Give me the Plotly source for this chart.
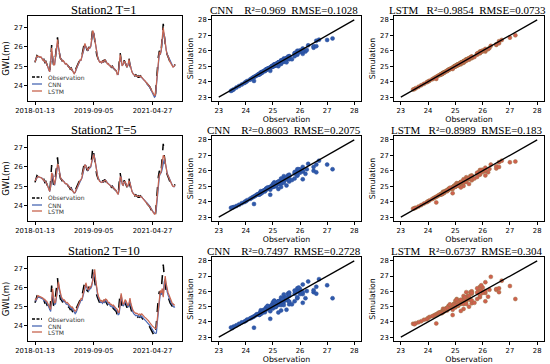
import plotly.graph_objects as go
import pandas as pd

# ---------------- data ----------------
start_date = "2018-01-13"
step = "10D"

observation = [
25.20,25.40,25.55,25.50,25.52,25.45,25.50,25.40,25.30,25.35,
25.20,25.25,25.10,24.95,24.75,24.70,25.30,26.10,25.40,25.05,
25.10,25.60,26.20,26.50,25.90,25.55,25.40,25.35,25.25,25.30,
25.15,25.10,25.15,25.05,25.00,24.95,24.85,24.90,24.75,24.65,
24.60,24.70,24.90,25.00,25.10,25.20,25.35,25.30,25.60,25.90,
26.10,26.25,26.00,25.85,25.80,26.00,25.95,26.10,26.50,27.00,
26.70,26.30,25.95,25.60,25.45,25.30,25.20,25.25,25.15,25.30,
25.20,25.35,25.30,25.20,25.10,25.15,25.00,25.05,24.95,25.00,
24.90,24.85,24.80,24.75,24.55,24.60,25.20,25.70,25.30,25.00,
25.10,25.30,25.20,25.05,24.95,25.10,25.40,25.05,24.80,24.70,
24.60,24.55,24.50,24.55,24.50,24.45,24.50,24.45,24.50,24.40,
24.35,24.30,24.25,24.20,24.15,24.05,24.00,23.95,23.85,23.75,
23.65,23.55,23.45,23.50,24.30,24.90,25.50,25.80,25.60,25.90,
26.60,27.20,26.60,26.10,25.80,25.60,25.50,25.35,25.20,25.10,
25.05,24.95,25.00,25.10]

cnn_t1 = [
25.25,25.38,25.50,25.50,25.50,25.46,25.47,25.42,25.33,25.33,
25.24,25.23,25.13,24.99,24.80,24.72,25.15,25.80,25.50,25.10,
25.08,25.45,25.95,26.20,26.00,25.62,25.43,25.36,25.27,25.28,
25.18,25.12,25.13,25.07,25.02,24.97,24.88,24.89,24.79,24.68,
24.63,24.68,24.85,24.98,25.08,25.18,25.30,25.31,25.50,25.75,
25.95,26.05,26.02,25.88,25.80,25.92,25.93,26.02,26.30,26.70,
26.72,26.35,25.98,25.65,25.48,25.33,25.22,25.23,25.17,25.25,
25.22,25.30,25.30,25.22,25.13,25.13,25.03,25.03,24.97,24.98,
24.92,24.86,24.81,24.76,24.60,24.58,25.00,25.45,25.38,25.05,
25.08,25.22,25.21,25.08,24.97,25.05,25.28,25.12,24.85,24.72,
24.62,24.56,24.51,24.53,24.50,24.46,24.48,24.45,24.47,24.40,
24.35,24.30,24.25,24.19,24.13,24.04,23.98,23.92,23.82,23.72,
23.62,23.50,23.40,23.45,24.05,24.70,25.25,25.65,25.62,25.80,
26.30,26.80,26.65,26.15,25.85,25.63,25.52,25.37,25.23,25.12,
25.06,24.97,24.99,25.07]

lstm_t1 = [
25.22,25.39,25.53,25.51,25.51,25.46,25.49,25.41,25.31,25.34,
25.22,25.24,25.11,24.97,24.78,24.71,25.22,25.95,25.45,25.07,
25.09,25.52,26.10,26.38,25.95,25.58,25.41,25.35,25.26,25.29,
25.16,25.11,25.14,25.06,25.01,24.96,24.86,24.89,24.77,24.66,
24.61,24.69,24.88,24.99,25.09,25.19,25.33,25.31,25.55,25.84,
26.04,26.18,26.01,25.86,25.81,25.96,25.95,26.06,26.42,26.85,
26.70,26.32,25.97,25.62,25.46,25.31,25.21,25.24,25.16,25.28,
25.21,25.33,25.30,25.21,25.11,25.14,25.02,25.04,24.96,24.99,
24.91,24.86,24.81,24.76,24.57,24.60,25.12,25.60,25.33,25.02,
25.09,25.27,25.20,25.06,24.96,25.08,25.35,25.08,24.82,24.71,
24.61,24.56,24.51,24.54,24.50,24.46,24.49,24.45,24.49,24.41,
24.36,24.31,24.26,24.21,24.15,24.06,24.01,23.96,23.86,23.77,
23.67,23.58,23.49,23.52,24.18,24.82,25.42,25.75,25.61,25.86,
26.48,27.00,26.62,26.12,25.82,25.61,25.51,25.36,25.21,25.11,
25.06,24.96,25.00,25.09]

cnn_t5 = [
25.30,25.32,25.45,25.50,25.48,25.45,25.45,25.43,25.35,25.30,
25.27,25.20,25.15,25.02,24.85,24.72,24.95,25.45,25.65,25.25,
25.05,25.30,25.80,26.00,26.10,25.70,25.45,25.38,25.30,25.27,
25.22,25.13,25.12,25.10,25.03,24.98,24.92,24.87,24.83,24.72,
24.65,24.66,24.78,24.95,25.05,25.15,25.27,25.33,25.42,25.70,
25.95,26.10,26.08,25.92,25.82,25.88,25.97,26.00,26.25,26.40,
26.65,26.45,26.10,25.75,25.52,25.38,25.25,25.22,25.20,25.20,
25.25,25.27,25.32,25.25,25.15,25.12,25.08,25.02,25.00,24.97,
24.95,24.88,24.83,24.78,24.68,24.58,24.82,25.40,25.50,25.15,
25.02,25.18,25.25,25.12,25.00,25.00,25.22,25.20,24.92,24.75,
24.65,24.58,24.53,24.52,24.53,24.48,24.47,24.48,24.47,24.45,
24.38,24.33,24.28,24.23,24.18,24.10,24.03,23.98,23.90,23.80,
23.72,23.65,23.60,23.62,23.85,24.45,25.05,25.50,25.65,25.70,
25.90,26.10,26.40,26.25,25.92,25.68,25.55,25.42,25.28,25.15,
25.08,25.00,24.97,25.03]

lstm_t5 = [
25.28,25.35,25.48,25.51,25.49,25.46,25.47,25.42,25.34,25.32,
25.25,25.22,25.14,25.00,24.83,24.73,25.02,25.70,25.58,25.20,
25.08,25.38,25.90,26.15,26.05,25.66,25.45,25.37,25.29,25.28,
25.20,25.13,25.13,25.09,25.03,24.98,24.90,24.88,24.81,24.71,
24.65,24.68,24.82,24.97,25.07,25.17,25.30,25.33,25.47,25.75,
25.98,26.12,26.06,25.90,25.82,25.92,25.97,26.03,26.30,26.55,
26.65,26.40,26.05,25.70,25.50,25.36,25.24,25.23,25.19,25.23,
25.24,25.29,25.31,25.24,25.14,25.13,25.06,25.03,24.99,24.98,
24.94,24.87,24.82,24.77,24.64,24.58,24.92,25.50,25.45,25.10,
25.05,25.22,25.24,25.10,24.99,25.03,25.28,25.17,24.90,24.74,
24.64,24.57,24.52,24.53,24.52,24.47,24.48,24.47,24.48,24.43,
24.37,24.32,24.27,24.22,24.17,24.08,24.02,23.97,23.88,23.78,
23.69,23.61,23.55,23.58,23.95,24.55,25.15,25.60,25.65,25.78,
26.25,26.60,26.55,26.20,25.88,25.65,25.53,25.40,25.25,25.13,
25.07,24.99,24.98,25.05]

cnn_t10 = [
25.35,25.30,25.40,25.52,25.50,25.48,25.45,25.46,25.40,25.32,
25.32,25.22,25.22,25.10,24.95,24.78,24.75,25.25,25.80,25.40,
25.10,25.15,25.55,25.95,26.20,25.85,25.55,25.42,25.36,25.27,
25.28,25.17,25.12,25.14,25.07,25.02,24.97,24.88,24.90,24.78,
24.68,24.63,24.70,24.88,25.00,25.10,25.20,25.34,25.33,25.55,
25.82,26.02,26.15,25.98,25.85,25.82,25.97,25.96,26.08,26.40,
26.80,26.65,26.25,25.92,25.60,25.45,25.32,25.22,25.24,25.17,
25.28,25.22,25.33,25.30,25.21,25.12,25.14,25.02,25.04,24.97,
24.99,24.91,24.86,24.81,24.76,24.58,24.62,25.15,25.60,25.28,
25.02,25.10,25.28,25.20,25.06,24.97,25.10,25.35,25.05,24.82,
24.71,24.62,24.56,24.52,24.55,24.50,24.47,24.50,24.46,24.50,
24.42,24.36,24.31,24.27,24.22,24.16,24.08,24.02,23.97,23.88,
23.78,23.70,23.63,23.60,23.62,24.20,24.80,25.35,25.70,25.62,
25.85,25.55,26.30,26.45,26.05,25.78,25.60,25.50,25.35,25.20,
25.10,25.05,24.97,25.00]

lstm_t10 = [
25.40,25.35,25.45,25.58,25.55,25.52,25.50,25.50,25.45,25.38,
25.38,25.30,25.28,25.18,25.05,24.90,24.85,25.35,25.95,25.50,
25.20,25.22,25.65,26.10,26.30,25.95,25.62,25.50,25.42,25.35,
25.35,25.25,25.20,25.22,25.15,25.10,25.05,24.97,24.98,24.88,
24.80,24.75,24.80,24.95,25.08,25.18,25.28,25.42,25.40,25.62,
25.90,26.10,26.25,26.05,25.92,25.90,26.05,26.02,26.15,26.35,
26.70,26.95,26.40,26.00,25.70,25.52,25.40,25.30,25.32,25.25,
25.35,25.30,25.40,25.38,25.30,25.20,25.22,25.12,25.12,25.05,
25.08,25.00,24.95,24.90,24.86,24.70,24.72,25.25,25.70,25.38,
25.12,25.18,25.36,25.30,25.15,25.05,25.18,25.45,25.15,24.92,
24.82,24.74,24.68,24.64,24.66,24.62,24.58,24.62,24.58,24.62,
24.55,24.50,24.45,24.41,24.37,24.32,24.25,24.18,24.14,24.05,
23.98,23.92,23.88,23.85,23.90,24.45,25.00,25.50,25.85,25.72,
25.95,25.50,26.20,26.60,26.20,25.90,25.72,25.60,25.45,25.30,
25.20,25.15,25.08,25.10]

row_titles = ["Station2 T=1", "Station2 T=5", "Station2 T=10"]
cnn_titles = ["CNN\u00a0\u00a0\u00a0 R²=0.969\u00a0 RMSE=0.1028",
              "CNN\u00a0\u00a0\u00a0 R²=0.8603\u00a0 RMSE=0.2075",
              "CNN\u00a0\u00a0\u00a0 R²=0.7497\u00a0 RMSE=0.2728"]
lstm_titles = ["LSTM\u00a0\u00a0 R²=0.9854\u00a0 RMSE=0.0733",
               "LSTM\u00a0\u00a0 R²=0.8989\u00a0 RMSE=0.183",
               "LSTM\u00a0\u00a0 R²=0.6737\u00a0 RMSE=0.304"]
series_names = ["Observation", "CNN", "LSTM"]
cnn_sims = [cnn_t1, cnn_t5, cnn_t10]
lstm_sims = [lstm_t1, lstm_t5, lstm_t10]

tick_dates = ["2018-01-13", "2019-09-05", "2021-04-27"]
gwl_ticks = [24, 25, 26, 27]
scatter_ticks = [23, 24, 25, 26, 27, 28]
one_to_one = [23, 28]

# ---------------- styling ----------------
W, H = 550, 364
C_OBS = "black"
C_CNN = "#4a68b4"
C_LSTM = "#c8654f"
C_CNN_PT = "#2f5aac"
C_LSTM_PT = "#d0604e"
TICKFONT = dict(family="DejaVu Sans", size=6.8, color="black")
STATIONFONT = dict(family="Liberation Serif", size=12.5, color="black")
METRICFONT = dict(family="Liberation Serif", size=11, color="black")
GWLFONT = dict(family="DejaVu Sans", size=8.5, color="black")
LABELFONT = dict(family="DejaVu Sans", size=7.8, color="black")

col_px = [(28, 182), (212, 361), (394, 544)]
row_px = [(16, 101), (136, 221), (257, 341)]
title_px = [10, 130, 251]
title_center_px = [104, 284, 467]
legend_rows_px = [(77, 84, 91), (198, 205, 211), (319, 326, 332)]

dates = pd.date_range(start_date, periods=len(observation), freq=step)
pad = pd.Timedelta(days=71.5)
x_range = [dates[0] - pad, dates[-1] + pad]

fig = go.Figure()
layout = {}
annotations = []
shapes = []


def dom_x(c):
    return [col_px[c][0] / W, col_px[c][1] / W]


def dom_y(r):
    return [1 - row_px[r][1] / H, 1 - row_px[r][0] / H]


def axis_common():
    return dict(showline=True, mirror=True, linecolor="black", linewidth=0.8,
                ticks="outside", ticklen=3, tickwidth=0.8, tickcolor="black",
                showgrid=False, zeroline=False, tickfont=TICKFONT, automargin=False)


k = 0
for r in range(3):
    for c in range(3):
        k += 1
        xa = "xaxis" if k == 1 else f"xaxis{k}"
        ya = "yaxis" if k == 1 else f"yaxis{k}"
        xref = "x" if k == 1 else f"x{k}"
        yref = "y" if k == 1 else f"y{k}"
        ax_x = axis_common()
        ax_y = axis_common()
        ax_x.update(domain=dom_x(c), anchor=yref)
        ax_y.update(domain=dom_y(r), anchor=xref)
        if c == 0:
            styles = [dict(color=C_OBS, width=1.5, dash="dash"),
                      dict(color=C_CNN, width=1.2),
                      dict(color=C_LSTM, width=1.2)]
            for name, ys, st in zip(series_names, [observation, cnn_sims[r], lstm_sims[r]], styles):
                fig.add_trace(go.Scatter(x=dates, y=ys, mode="lines", name=name, line=st,
                                         showlegend=False, xaxis=xref, yaxis=yref))
            # in-axes legend (drawn by hand so the entries can sit as tightly as in the source)
            for name, st, ypx in zip(series_names, styles, legend_rows_px[r]):
                shapes.append(dict(type="line", xref="paper", yref="paper",
                                   x0=32 / W, x1=42 / W, y0=1 - ypx / H, y1=1 - ypx / H,
                                   line=dict(color=st["color"], width=1.3,
                                             dash="3px,1.5px" if st.get("dash") else "solid")))
                annotations.append(dict(text=name, x=46 / W, y=1 - ypx / H, xref="paper", yref="paper",
                                        xanchor="left", yanchor="middle", showarrow=False,
                                        font=dict(family="DejaVu Sans", size=6, color="#333")))
            ax_x.update(type="date", range=x_range, tickvals=tick_dates, ticktext=tick_dates)
            ax_y.update(range=[23.2, 27.6], tickvals=gwl_ticks,
                        title=dict(text="GWL(m)", font=GWLFONT, standoff=3))
            title, tfont = row_titles[r], STATIONFONT
        else:
            sims = cnn_sims[r] if c == 1 else lstm_sims[r]
            col = C_CNN_PT if c == 1 else C_LSTM_PT
            edge = "#2a4f9a" if c == 1 else "#9a7444"
            fig.add_trace(go.Scatter(x=observation, y=sims, mode="markers",
                                     marker=dict(color=col, size=4, line=dict(color=edge, width=0.5)),
                                     showlegend=False, xaxis=xref, yaxis=yref))
            fig.add_trace(go.Scatter(x=one_to_one, y=one_to_one, mode="lines",
                                     line=dict(color="black", width=1.3),
                                     showlegend=False, xaxis=xref, yaxis=yref))
            ax_x.update(range=[22.75, 28.25], tickvals=scatter_ticks,
                        title=dict(text="Observation", font=LABELFONT, standoff=2))
            ax_y.update(range=[22.75, 28.25], tickvals=scatter_ticks,
                        title=dict(text="Simulation", font=LABELFONT, standoff=3))
            title = cnn_titles[r] if c == 1 else lstm_titles[r]
            tfont = METRICFONT
        layout[xa] = ax_x
        layout[ya] = ax_y
        annotations.append(dict(text=title, x=title_center_px[c] / W,
                                y=1 - title_px[r] / H, xref="paper", yref="paper",
                                xanchor="center", yanchor="middle", showarrow=False, font=tfont))

fig.update_layout(**layout)
fig.update_layout(width=W, height=H, margin=dict(l=0, r=0, t=0, b=0, autoexpand=False),
                  paper_bgcolor="white", plot_bgcolor="white",
                  annotations=annotations, shapes=shapes, showlegend=False)

# the page's default body margin would push the fixed-size figure 8px right/down
fig.write_html("out.html", config={"displayModeBar": False},
               post_script="document.body.style.margin='0';document.body.style.overflow='hidden';")
